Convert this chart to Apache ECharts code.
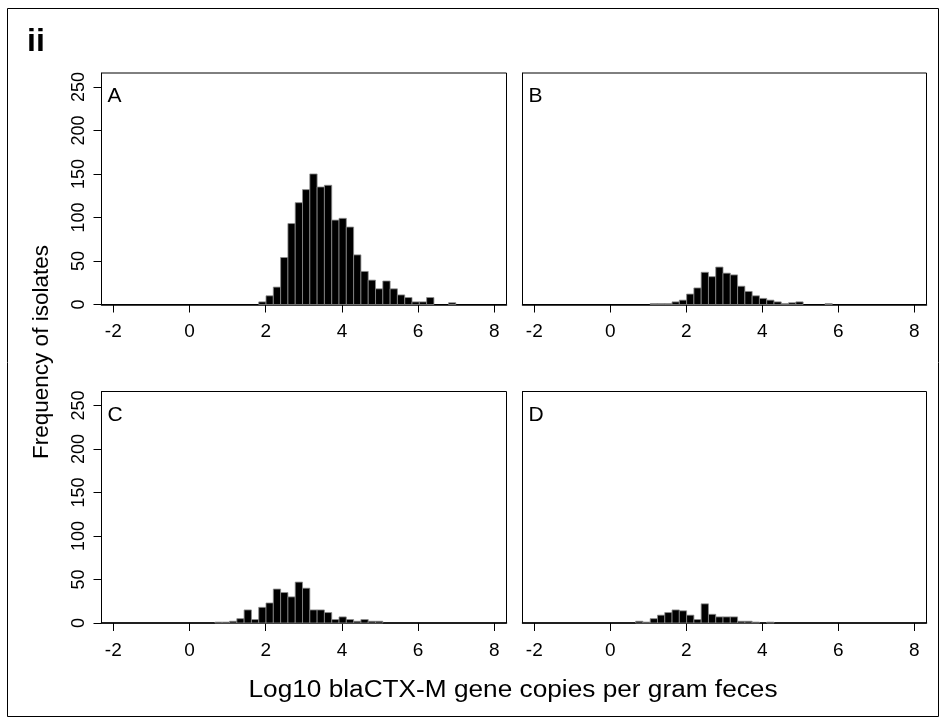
<!DOCTYPE html>
<html><head><meta charset="utf-8">
<script src="https://cdn.jsdelivr.net/npm/echarts@6/dist/echarts.min.js"></script>
<style>html,body{margin:0;padding:0;background:#fff}#c{width:945px;height:723px}</style>
</head><body><div id="c"></div>
<script>
// Histogram bins: left edge of first bin and bin width (log10 units)
const BIN_START = 0.667;
const BIN_WIDTH = 0.1916;
const panelLabels = ['A', 'B', 'C', 'D'];
// counts per bin, starting at BIN_START
const countsA = [0,0,0,0,0,0, 3,10,20,54,93,117,132,150,135,137,97,99,89,57,38,28,18,27,18,11,8,3,3,8,0,0,2];
const countsB = [0,0,1,1,1,3, 5,12,19,37,32,43,36,34,21,15,10,7,5,3,1,2,3,0,0,0,1,0,0,0,0,0,0];
const countsC = [1,1,2,5,15,4, 18,23,39,35,30,47,40,15,15,12,4,7,4,2,4,2,2,0,0,0,0,0,0,0,0,0,0];
const countsD = [2,1,5,9,12,15, 14,9,4,22,10,7,7,7,2,2,1,0,1,0,0,0,0,0,0,0,0,0,0,0,0,0,0];
const xTicks = [-2, 0, 2, 4, 6, 8];
const yTicks = [0, 50, 100, 150, 200, 250];
const X_MIN = -2.31, X_MAX = 8.32, Y_MAX = 266;

const FONT = 'Liberation Sans, Arial, sans-serif';
const chart = echarts.init(document.getElementById('c'), null, {renderer: 'canvas'});

function histData(counts) {
  return counts.map((c, i) => [BIN_START + i * BIN_WIDTH, BIN_START + (i + 1) * BIN_WIDTH, c]);
}
function renderBar(params, api) {
  const v = api.value(2);
  if (!v) return null;
  const p0 = api.coord([api.value(0), v]);
  const p1 = api.coord([api.value(1), 0]);
  return {
    type: 'rect',
    shape: {x: p0[0], y: p0[1], width: p1[0] - p0[0], height: p1[1] - p0[1]},
    style: {fill: '#000', stroke: '#8c8c8c', lineWidth: 0.8}
  };
}

const allCounts = [countsA, countsB, countsC, countsD];
const gridPos = [
  {left: 101.5, top: 73, width: 405, height: 231.5},
  {left: 522.5, top: 73, width: 404, height: 231.5},
  {left: 101.5, top: 391.5, width: 405, height: 231.5},
  {left: 522.5, top: 391.5, width: 404, height: 231.5}
];

const grids = [], xAxes = [], yAxes = [], series = [], titles = [];
gridPos.forEach((g, i) => {
  grids.push(Object.assign({show: true, borderColor: '#000', borderWidth: 1, backgroundColor: 'transparent'}, g));
  xAxes.push({
    type: 'value', gridIndex: i, min: X_MIN, max: X_MAX,
    axisLine: {show: true, onZero: false, lineStyle: {color: '#000', width: 1.5}},
    axisTick: {show: true, customValues: xTicks, length: 8, lineStyle: {color: '#000'}},
    axisLabel: {show: true, customValues: xTicks, fontSize: 19, color: '#000', fontFamily: FONT, margin: 18},
    splitLine: {show: false}
  });
  const left = (i % 2 === 0);
  yAxes.push({
    type: 'value', gridIndex: i, min: 0, max: Y_MAX, position: 'left',
    axisLine: {show: true, onZero: false, lineStyle: {color: '#000', width: 1}},
    axisTick: {show: left, customValues: yTicks, length: 8, lineStyle: {color: '#000', width: 1}},
    axisLabel: {show: left, customValues: yTicks, rotate: 90, fontSize: 18, color: '#000', fontFamily: FONT, margin: 13},
    splitLine: {show: false}
  });
  series.push({
    type: 'custom', xAxisIndex: i, yAxisIndex: i,
    renderItem: renderBar, encode: {x: [0, 1], y: 2},
    data: histData(allCounts[i]), silent: true
  });
  titles.push({
    text: panelLabels[i], left: g.left + 6, top: g.top + 13, padding: 0,
    textStyle: {fontSize: 21, fontWeight: 'normal', color: '#000', fontFamily: FONT}
  });
});
titles.push({text: 'ii', left: 27, top: 26, padding: 0, textStyle: {fontSize: 32, fontWeight: 'bold', color: '#000', fontFamily: FONT}});

chart.setOption({
  animation: false,
  backgroundColor: '#fff',
  title: titles,
  grid: grids, xAxis: xAxes, yAxis: yAxes, series: series,
  graphic: [
    {type: 'rect', shape: {x: 7.5, y: 8.5, width: 931, height: 708}, style: {fill: 'none', stroke: '#000', lineWidth: 1}, silent: true},
    {type: 'text', x: 42, y: 352, rotation: Math.PI / 2,
      style: {text: 'Frequency of isolates', fontSize: 22.5, fill: '#000', fontFamily: FONT, align: 'center', verticalAlign: 'middle'}},
    {type: 'text', x: 513, y: 691, scaleX: 1.14,
      style: {text: 'Log10 blaCTX-M gene copies per gram feces', fontSize: 23, fill: '#000', fontFamily: FONT, align: 'center', verticalAlign: 'middle'}}
  ]
});
</script></body></html>
